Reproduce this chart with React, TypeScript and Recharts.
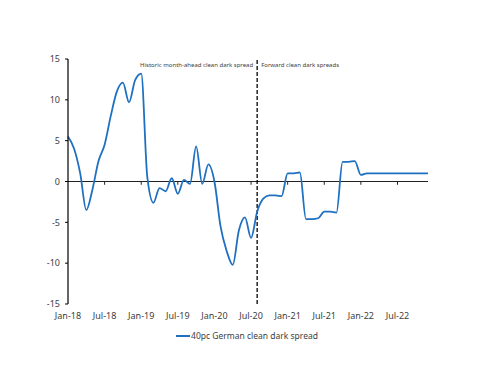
import React from "react";
import { LineChart, Line, XAxis, YAxis, ReferenceLine, Legend } from "recharts";

const months: number[] = Array.from({ length: 60 }, (_, i) => i);
const spreadValues: number[] = [
  5.5, 4.0, 1.0, -3.5, -1.0, 2.5, 4.5, 8.0, 11.0, 12.1, 9.7, 12.4,
  13.2, 0.5, -2.6, -0.8, -1.2, 0.4, -1.5, 0.2, -0.3, 4.3, -0.3, 2.1,
  0.0, -5.5, -8.5, -10.2, -6.0, -4.4, -6.9, -3.7, -2.1, -1.7, -1.7, -1.8,
  1.0, 1.0, 1.1, -4.6, -4.6, -4.5, -3.7, -3.7, -3.8, 2.4, 2.4, 2.5,
  0.8, 1.0, 1.0, 1.0, 1.0, 1.0, 1.0, 1.0, 1.0, 1.0, 1.0, 1.0,
];
const xTicks: number[] = [0, 6, 12, 18, 24, 30, 36, 42, 48, 54];
const xTickLabels: string[] = [
  "Jan-18", "Jul-18", "Jan-19", "Jul-19", "Jan-20", "Jul-20", "Jan-21", "Jul-21", "Jan-22", "Jul-22",
];
const yTicks: number[] = [-15, -10, -5, 0, 5, 10, 15];
const forwardStart = 31;
const seriesName = "40pc German clean dark spread";
const historicLabel = "Historic month-ahead clean dark spread";
const forwardLabel = "Forward clean dark spreads";

const data = months.map((m, i) => ({ m, v: spreadValues[i] }));

const FONT = "'Noto Sans', sans-serif";
const LINE_COLOR = "#1f70c1";

const DividerLabel = (props: any) => {
  const { viewBox } = props;
  const x = viewBox.x;
  const y = viewBox.y;
  return (
    <g fontFamily={FONT} fontSize={6} fill="#404040">
      <text x={x - 4} y={y + 8} textAnchor="end">{historicLabel}</text>
      <text x={x + 4} y={y + 8} textAnchor="start">{forwardLabel}</text>
    </g>
  );
};

const LegendContent = (props: any) => {
  const { payload } = props;
  return (
    <div style={{ display: "flex", justifyContent: "center", alignItems: "center" }}>
      {(payload || []).map((p: any) => (
        <div key={p.value} style={{ display: "flex", alignItems: "center" }}>
          <svg width={14} height={10} style={{ marginRight: 1 }}>
            <line x1={0} y1={5} x2={14} y2={5} stroke={p.color} strokeWidth={2} />
          </svg>
          <span style={{ fontSize: 8.5, fontFamily: FONT, color: "#404040" }}>{p.value}</span>
        </div>
      ))}
    </div>
  );
};

export default function App() {
  return (
    <div style={{ position: "absolute", left: 0, top: 0, width: 500, height: 386, background: "#fff" }}>
      <LineChart
        width={500}
        height={386}
        data={data}
        margin={{ top: 59, right: 72, bottom: 45, left: 28 }}
        style={{ fontFamily: FONT }}
      >
        <XAxis
          dataKey="m"
          type="number"
          domain={[0, 59]}
          ticks={xTicks}
          tickFormatter={(v: number) => xTickLabels[xTicks.indexOf(v)]}
          axisLine={false}
          tickLine={false}
          tickSize={0}
          tickMargin={9}
          height={26}
          tick={{ fontSize: 9, fill: "#404040", fontFamily: FONT }}
          interval={0}
        />
        <YAxis
          type="number"
          domain={[-15, 15]}
          ticks={yTicks}
          width={40}
          axisLine={{ stroke: "#000", strokeWidth: 1.2 }}
          tickLine={{ stroke: "#000" }}
          tickSize={3}
          tickMargin={5}
          tick={{ fontSize: 9, fill: "#404040", fontFamily: FONT }}
          interval={0}
        />
        <ReferenceLine y={0} stroke="#222" strokeWidth={1} ifOverflow="visible" />
        {xTicks.slice(1).map((t) => (
          <ReferenceLine
            key={t}
            segment={[{ x: t, y: 0 }, { x: t, y: -0.4 }]}
            stroke="#222"
            strokeWidth={1}
            ifOverflow="visible"
          />
        ))}
        <ReferenceLine
          x={forwardStart}
          stroke="#000"
          strokeWidth={1.3}
          strokeDasharray="4 2"
          label={<DividerLabel />}
        />
        <Line
          type="monotone"
          dataKey="v"
          name={seriesName}
          stroke={LINE_COLOR}
          strokeWidth={1.8}
          dot={false}
          isAnimationActive={false}
        />
        <Legend
          verticalAlign="bottom"
          align="center"
          content={<LegendContent />}
          wrapperStyle={{ left: 0, width: 494 }}
        />
      </LineChart>
    </div>
  );
}
